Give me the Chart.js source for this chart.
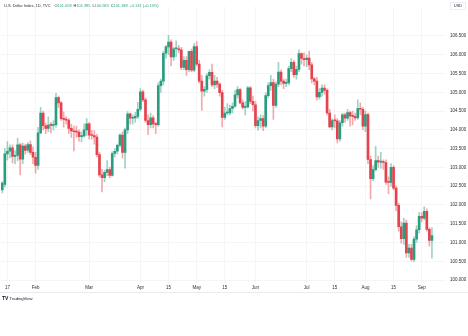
<!DOCTYPE html>
<html>
<head>
<meta charset="utf-8">
<script src="https://cdn.jsdelivr.net/npm/chart.js@4.4.1/dist/chart.umd.min.js"></script>
<style>
  html, body { margin: 0; padding: 0; background: #fff; }
  canvas { display: block; }
</style>
</head>
<body>
<canvas id="chart" width="468" height="336"></canvas>
<script>
// trading days shown, 2024
const jan = [15, 16, 17, 18, 19, 22, 23, 24, 25, 26, 29, 30, 31];
const feb = [1, 2, 5, 6, 7, 8, 9, 12, 13, 14, 15, 16, 19, 20, 21, 22, 23, 26, 27, 28, 29];
const mar = [1, 4, 5, 6, 7, 8, 11, 12, 13, 14, 15, 18, 19, 20, 21, 22, 25, 26, 27, 28];
const apr = [1, 2, 3, 4, 5, 8, 9, 10, 11, 12, 15, 16, 17, 18, 19, 22, 23, 24, 25, 26, 29, 30];
const may = [1, 2, 3, 6, 7, 8, 9, 10, 13, 14, 15, 16, 17, 20, 21, 22, 23, 24, 27, 28, 29, 30, 31];
const jun = [3, 4, 5, 6, 7, 10, 11, 12, 13, 14, 17, 18, 19, 20, 21, 24, 25, 26, 27, 28];
const jul = [1, 2, 3, 4, 5, 8, 9, 10, 11, 12, 15, 16, 17, 18, 19, 22, 23, 24, 25, 26, 29, 30, 31];
const aug = [1, 2, 5, 6, 7, 8, 9, 12, 13, 14, 15, 16, 19, 20, 21, 22, 23, 26, 27, 28, 29, 30];
const sep = [2, 3, 4, 5, 6];
const emptySlots = 5; // blank space right of the last candle

const opens = [
  102.40, 102.55, 103.36, 103.43, 103.52, 103.29, 103.32, 103.60, 103.22, 103.57, 103.46, 103.61, 103.40,
  103.27, 103.05, 103.92, 104.45, 104.11, 104.04, 104.13, 104.12, 104.14, 104.86, 104.72, 104.30, 104.28, 104.26, 104.04, 103.97, 103.95, 103.94, 103.82, 103.84, 104.00,
  104.16, 103.86, 103.85, 103.81, 103.34, 102.80, 102.73, 102.87, 102.94, 102.79, 103.37, 103.43, 103.59, 103.86, 103.40, 104.00, 104.43, 104.31, 104.32, 104.36,
  104.55, 105.01, 104.80, 104.25, 104.14, 104.32, 104.16, 104.14, 105.18, 105.30, 106.04, 106.21, 106.34, 105.94, 106.16, 106.16, 106.13, 105.66, 105.85, 105.60, 106.09, 105.59,
  106.22, 105.75, 105.30, 105.03, 105.08, 105.44, 105.53, 105.20, 105.30, 105.22, 104.99, 104.33, 104.45, 104.45, 104.57, 104.63, 104.93, 105.07, 104.72, 104.60, 104.61, 105.12, 104.76,
  104.67, 104.11, 104.25, 104.30, 104.10, 104.91, 105.18, 105.26, 104.65, 105.22, 105.54, 105.30, 105.24, 105.25, 105.63, 105.80, 105.47, 105.61, 106.03, 105.90,
  105.87, 105.91, 105.73, 105.36, 105.30, 104.88, 105.00, 105.11, 105.05, 104.45, 104.08, 104.25, 104.24, 103.76, 104.19, 104.40, 104.31, 104.46, 104.37, 104.36, 104.32, 104.57, 104.55,
  104.10, 104.41, 103.21, 102.70, 102.94, 103.18, 103.14, 103.14, 103.13, 102.61, 102.60, 103.00, 102.45, 101.99, 101.42, 101.10, 101.52, 100.72, 100.85, 100.55, 101.09, 101.34,
  101.70, 101.65, 101.83, 101.35, 101.058
];
const highs = [
  102.62, 103.50, 103.69, 103.60, 103.60, 103.45, 103.78, 103.65, 103.65, 103.62, 103.66, 103.70, 103.55,
  103.40, 104.07, 104.60, 104.50, 104.18, 104.35, 104.20, 104.25, 104.97, 104.90, 104.75, 104.48, 104.35, 104.30, 104.15, 104.10, 104.10, 104.00, 103.95, 104.16, 104.30,
  104.20, 103.98, 103.98, 103.88, 103.40, 102.95, 102.92, 103.18, 103.00, 103.42, 103.50, 103.62, 103.90, 103.95, 104.05, 104.49, 104.45, 104.40, 104.47, 104.73,
  105.10, 105.05, 104.85, 104.40, 104.45, 104.38, 104.20, 105.25, 105.35, 106.10, 106.25, 106.52, 106.40, 106.20, 106.37, 106.25, 106.20, 105.95, 105.95, 106.10, 106.15, 106.30,
  106.35, 105.85, 105.45, 105.15, 105.50, 105.60, 105.75, 105.45, 105.40, 105.25, 105.05, 104.60, 104.70, 104.66, 104.72, 105.05, 105.15, 105.10, 104.80, 104.75, 105.16, 105.15, 104.90,
  104.75, 104.35, 104.40, 104.38, 104.98, 105.25, 105.45, 105.35, 105.28, 105.80, 105.60, 105.35, 105.35, 105.70, 105.90, 105.85, 105.70, 106.13, 106.05, 106.05,
  106.00, 106.10, 105.80, 105.40, 105.40, 105.10, 105.20, 105.20, 105.10, 104.55, 104.30, 104.40, 104.30, 104.25, 104.45, 104.45, 104.55, 104.50, 104.50, 104.45, 104.80, 104.72, 104.60,
  104.50, 104.45, 103.30, 103.05, 103.56, 103.30, 103.40, 103.20, 103.20, 102.75, 103.10, 103.05, 102.50, 102.05, 101.55, 101.65, 101.60, 100.95, 100.95, 101.15, 101.45, 101.80,
  101.80, 101.95, 101.90, 101.40, 101.395
];
const lows = [
  102.32, 102.48, 103.20, 103.25, 103.12, 103.10, 103.18, 102.80, 103.10, 103.35, 103.40, 103.34, 103.10,
  102.85, 102.95, 103.90, 104.00, 103.90, 103.95, 103.92, 104.00, 104.07, 104.60, 104.25, 104.07, 104.15, 103.89, 103.80, 103.44, 103.80, 103.70, 103.68, 103.80, 103.85,
  103.75, 103.75, 103.62, 103.28, 102.75, 102.35, 102.62, 102.78, 102.72, 102.77, 103.28, 103.36, 103.55, 103.25, 102.98, 103.90, 104.15, 104.15, 104.20, 104.30,
  104.50, 104.75, 104.20, 103.88, 104.05, 104.05, 103.90, 104.10, 105.00, 105.20, 105.90, 106.00, 105.70, 105.85, 105.95, 106.05, 105.60, 105.60, 105.45, 105.55, 105.55, 105.55,
  105.70, 105.25, 104.52, 104.90, 105.00, 105.35, 105.15, 105.10, 105.13, 104.90, 104.08, 104.28, 104.40, 104.40, 104.45, 104.60, 104.85, 104.70, 104.55, 104.40, 104.58, 104.70, 104.50,
  104.05, 103.99, 104.05, 103.98, 104.05, 104.85, 105.05, 104.28, 104.60, 105.15, 105.20, 105.10, 105.15, 105.20, 105.55, 105.40, 105.35, 105.55, 105.75, 105.70,
  105.68, 105.60, 105.25, 105.20, 104.80, 104.82, 104.90, 104.95, 104.40, 104.05, 104.00, 104.05, 103.65, 103.70, 104.10, 104.20, 104.25, 104.10, 104.13, 104.25, 104.28, 104.40, 104.00,
  103.95, 103.10, 102.16, 102.65, 102.90, 103.00, 102.98, 102.95, 102.55, 102.30, 102.50, 102.40, 101.85, 101.30, 100.98, 100.95, 100.60, 100.60, 100.51, 100.50, 101.00, 101.25,
  101.55, 101.60, 101.30, 100.90, 100.583
];
const closes = [
  102.58, 103.36, 103.43, 103.52, 103.29, 103.32, 103.60, 103.22, 103.57, 103.45, 103.61, 103.40, 103.27,
  103.05, 103.92, 104.45, 104.11, 104.04, 104.13, 104.12, 104.14, 104.86, 104.72, 104.30, 104.28, 104.26, 104.04, 103.97, 103.95, 103.94, 103.82, 103.84, 104.00, 104.16,
  103.86, 103.85, 103.81, 103.34, 102.80, 102.73, 102.87, 102.94, 102.79, 103.37, 103.43, 103.59, 103.86, 103.40, 104.00, 104.43, 104.31, 104.32, 104.36, 104.55,
  105.01, 104.80, 104.25, 104.14, 104.32, 104.16, 104.14, 105.18, 105.30, 106.04, 106.21, 106.34, 105.94, 106.16, 106.16, 106.13, 105.66, 105.85, 105.60, 106.09, 105.59, 106.22,
  105.75, 105.30, 105.03, 105.08, 105.44, 105.53, 105.20, 105.30, 105.22, 104.99, 104.33, 104.45, 104.45, 104.57, 104.63, 104.93, 105.07, 104.72, 104.60, 104.61, 105.12, 104.76, 104.67,
  104.11, 104.25, 104.30, 104.10, 104.91, 105.18, 105.26, 104.65, 105.22, 105.54, 105.30, 105.24, 105.25, 105.63, 105.80, 105.47, 105.61, 106.03, 105.90, 105.87,
  105.91, 105.73, 105.36, 105.30, 104.88, 105.00, 105.11, 105.05, 104.45, 104.08, 104.25, 104.24, 103.76, 104.19, 104.40, 104.31, 104.46, 104.37, 104.36, 104.32, 104.57, 104.55, 104.10,
  104.41, 103.21, 102.70, 102.94, 103.18, 103.14, 103.14, 103.13, 102.61, 102.60, 103.00, 102.45, 101.99, 101.42, 101.10, 101.52, 100.72, 100.85, 100.55, 101.09, 101.34, 101.70,
  101.65, 101.83, 101.35, 101.057, 101.188
];

const yTickValues = [100, 100.5, 101, 101.5, 102, 102.5, 103, 103.5, 104, 104.5, 105, 105.5, 106, 106.5];
const xTickDates = ["01-17", "02-01", "03-01", "04-01", "04-16", "05-01", "05-16", "06-03", "07-01", "07-16", "08-01", "08-16", "09-02"];
const xTickText = ["17", "Feb", "Mar", "Apr", "15", "May", "15", "Jun", "Jul", "15", "Aug", "15", "Sep"];

const title = "U.S. Dollar Index, 1D, TVC";
const legendParts = [["O", "101.058"], ["H", "101.395"], ["L", "100.583"], ["C", "101.188"], ["", "+0.131 (+0.13%)"]];

const upColor = "#2a9d80";
const downColor = "#e5424d";
const upWick = "rgba(42,157,128,0.45)";
const downWick = "rgba(229,66,77,0.45)";
const textColor = "#2a2e39";
const gridColor = "#f0f2f5";
const font = "'Liberation Sans', Arial, sans-serif";

const pad = (n) => String(n).padStart(2, "0");
const labels = [];
[jan, feb, mar, apr, may, jun, jul, aug, sep].forEach((days, m) => {
  days.forEach((d) => labels.push(pad(m + 1) + "-" + pad(d)));
});
for (let i = 0; i < emptySlots; i++) labels.push("");

const isUp = closes.map((c, i) => c >= opens[i]);

const overlay = {
  id: "overlay",
  afterDraw(chart) {
    const ctx = chart.ctx;
    ctx.save();
    ctx.textBaseline = "middle";
    // header line
    ctx.font = "3.9px " + font;
    ctx.fillStyle = textColor;
    ctx.fillText(title, 4, 5.5);
    let x = 4 + ctx.measureText(title).width + 4;
    legendParts.forEach(([k, v]) => {
      if (k) {
        ctx.fillStyle = textColor;
        ctx.fillText(k, x, 5.5);
        x += ctx.measureText(k).width;
      }
      ctx.fillStyle = upColor;
      ctx.fillText(v, x, 5.5);
      x += ctx.measureText(v).width + 2;
    });
    // currency box
    ctx.strokeStyle = "#e0e3eb";
    ctx.lineWidth = 0.6;
    ctx.fillStyle = "#fff";
    ctx.fillRect(450.5, 2.5, 15, 7);
    ctx.strokeRect(450.5, 2.5, 15, 7);
    ctx.fillStyle = textColor;
    ctx.font = "4px " + font;
    ctx.textAlign = "center";
    ctx.fillText("USD", 458, 6);
    // bottom border of time axis
    ctx.strokeStyle = "#e0e3eb";
    ctx.lineWidth = 0.7;
    ctx.beginPath();
    ctx.moveTo(0, 292.5);
    ctx.lineTo(468, 292.5);
    ctx.stroke();
    // logo
    ctx.textAlign = "left";
    ctx.font = "bold 5px " + font;
    ctx.fillStyle = "#131722";
    ctx.fillText("TV", 2, 298.5);
    ctx.font = "4.2px " + font;
    ctx.fillText("TradingView", 9.5, 298.5);
    ctx.restore();
  }
};

new Chart(document.getElementById("chart"), {
  type: "bar",
  data: {
    labels,
    datasets: [
      {
        label: "wick",
        data: lows.map((l, i) => [l, highs[i]]),
        backgroundColor: isUp.map((u) => (u ? upWick : downWick)),
        barThickness: 1,
        grouped: false,
        order: 2
      },
      {
        label: "body",
        data: opens.map((o, i) => [o, closes[i]]),
        backgroundColor: isUp.map((u) => (u ? upColor : downColor)),
        barThickness: 2,
        minBarLength: 1,
        grouped: false,
        order: 1
      }
    ]
  },
  options: {
    responsive: false,
    animation: false,
    devicePixelRatio: 1,
    layout: { padding: { left: 1, right: 0, top: 0, bottom: 44 } },
    plugins: { legend: { display: false }, tooltip: { enabled: false } },
    scales: {
      x: {
        offset: true,
        grid: { color: gridColor, lineWidth: 0.8, offset: false, drawTicks: false },
        border: { display: false },
        afterBuildTicks: (scale) => {
          scale.ticks = xTickDates.map((d) => ({ value: labels.indexOf(d) }));
        },
        afterFit: (scale) => { scale.height = 9; },
        ticks: {
          autoSkip: false,
          maxRotation: 0,
          padding: 2.5,
          color: textColor,
          font: { size: 4.5, family: font },
          callback: (value, index) => xTickText[index]
        }
      },
      y: {
        position: "right",
        min: 99.922,
        max: 107.28,
        grid: { color: gridColor, lineWidth: 0.8, drawTicks: false },
        border: { display: false },
        afterBuildTicks: (scale) => {
          scale.ticks = yTickValues.map((v) => ({ value: v }));
        },
        afterFit: (scale) => { scale.width = 22; },
        ticks: {
          padding: 4,
          color: textColor,
          font: { size: 4.5, family: font },
          callback: (value) => value.toFixed(3)
        }
      }
    }
  },
  plugins: [overlay]
});
</script>
</body>
</html>
